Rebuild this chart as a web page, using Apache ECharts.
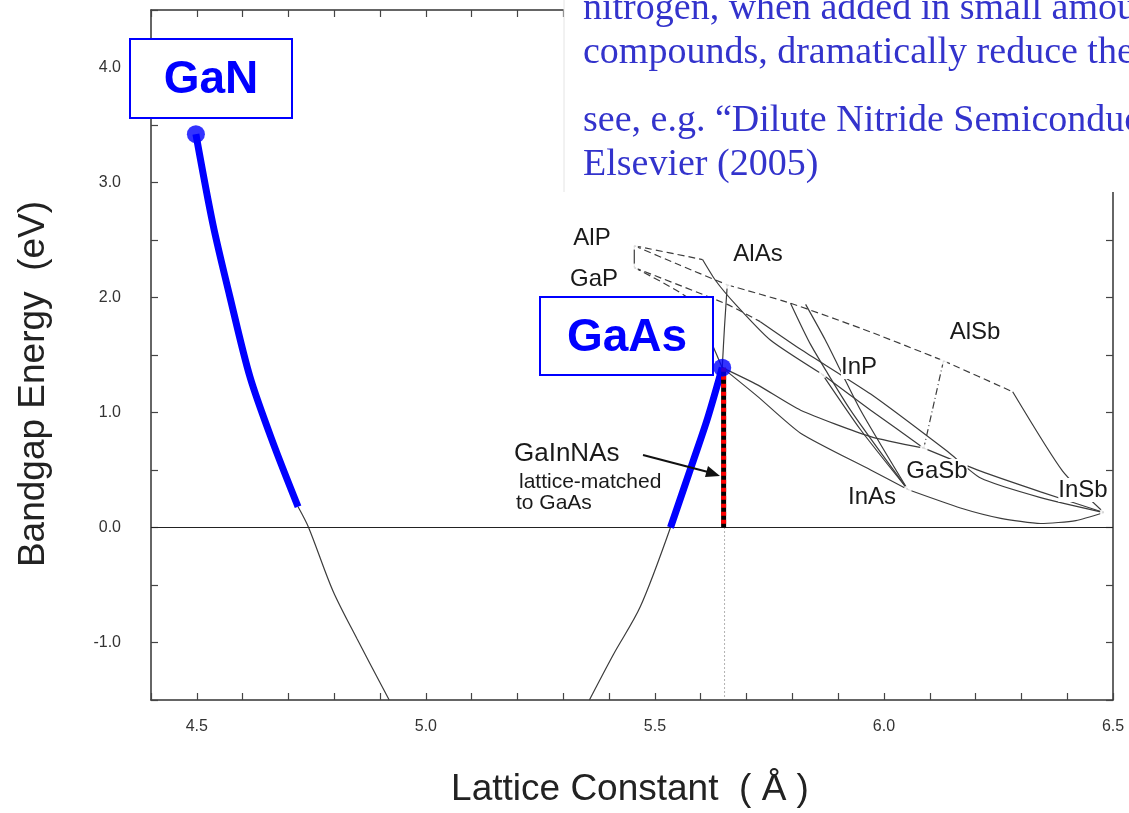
<!DOCTYPE html>
<html lang="en">
<head>
    <meta charset="utf-8">
    <title>Bandgap vs Lattice Constant</title>
    <script src="https://cdn.jsdelivr.net/npm/echarts@6/dist/echarts.min.js"></script>
</head>
<body>
    <style type="text/css">
        html, body { height: 100%; }
        body { margin: 0; background: #fff; }
    </style>
    <div id="main" style="width:1129px;height:813px;"></div>
    <script type="text/javascript">
        // compound end points (lattice constant, bandgap)
        var compounds = [[5.455, 2.45], [5.455, 2.26], [5.658, 2.11], [5.866, 1.33],
                         [6.130, 1.45], [6.087, 0.69], [6.052, 0.33], [6.480, 0.13]];

        // GaN / GaAs bowing curve (blue part = GaNAs, thin part = unphysical range)
        var ganBlue = [[4.498, 3.42], [4.535, 2.64], [4.572, 2.01], [4.616, 1.31], [4.666, 0.74], [4.721, 0.18]];
        var ganThin = [[4.721, 0.18], [4.744, 0.0], [4.797, -0.55], [4.850, -0.97], [4.920, -1.5]];
        var gaasThin = [[5.357, -1.5], [5.41, -1.1], [5.468, -0.69], [5.534, 0.0]];
        var gaasBlue = [[5.534, 0.0], [5.582, 0.56], [5.615, 0.95], [5.647, 1.39]];
        var ganPoint = [[4.498, 3.42]];
        var gaasPoint = [[5.647, 1.39]];

        // GaInNAs lattice matched to GaAs
        var gainnas = [[5.65, 1.39], [5.65, 0.0]];
        var gaasDrop = [[5.652, 0.0], [5.652, -1.5]];

        // ternary alloy lines, solid
        var solidLines = [
            [[5.455, 2.45], [5.455, 2.26]],                                   // AlP-GaP
            [[5.604, 2.33], [5.632, 2.15], [5.676, 1.94], [5.752, 1.63], [5.866, 1.33]], // AlP-InP
            [[5.621, 1.63], [5.647, 1.39]],                                   // GaP-GaAs
            [[5.730, 1.79], [5.818, 1.55], [5.971, 1.16], [6.139, 0.66], [6.211, 0.43], [6.342, 0.26], [6.480, 0.13]],
            [[5.658, 2.11], [5.652, 1.75], [5.647, 1.39]],                    // AlAs-GaAs
            [[5.796, 1.95], [5.840, 1.59], [5.927, 1.02], [6.052, 0.33]],     // AlAs-InAs
            [[5.829, 1.94], [5.872, 1.63], [5.949, 1.02], [6.052, 0.33]],
            [[5.647, 1.39], [5.724, 1.14], [5.818, 0.82], [5.971, 0.50], [6.052, 0.33]], // GaAs-InAs
            [[5.647, 1.39], [5.724, 1.24], [5.818, 1.02], [5.971, 0.79], [6.087, 0.69]], // GaAs-GaSb
            [[5.866, 1.33], [5.949, 0.85], [6.052, 0.33]],                    // InP-InAs
            [[5.866, 1.33], [5.971, 1.02], [6.087, 0.69]],
            [[6.281, 1.18], [6.390, 0.49], [6.480, 0.13]],                    // AlSb-InSb
            [[6.087, 0.69], [6.211, 0.49], [6.342, 0.31], [6.480, 0.13]],     // GaSb-InSb
            [[6.052, 0.33], [6.167, 0.17], [6.255, 0.08], [6.342, 0.035], [6.419, 0.06], [6.480, 0.13]] // InAs-InSb
        ];
        // indirect gap parts, dashed
        var dashedLines = [
            [[5.455, 2.45], [5.555, 2.28], [5.658, 2.11]],                    // AlP-AlAs
            [[5.455, 2.45], [5.604, 2.33]],
            [[5.455, 2.26], [5.577, 1.98], [5.621, 1.63]],
            [[5.455, 2.26], [5.658, 1.94], [5.730, 1.79]],
            [[5.658, 2.11], [5.796, 1.95], [5.971, 1.70], [6.130, 1.45]],     // AlAs-AlSb
            [[6.130, 1.45], [6.281, 1.18]]
        ];
        var dashDotLines = [
            [[6.130, 1.45], [6.087, 0.69]]                                    // AlSb-GaSb
        ];

        var labels = [
            { t: 'AlP', x: 592, y: 238 }, { t: 'GaP', x: 594, y: 279 },
            { t: 'AlAs', x: 758, y: 254 }, { t: 'InP', x: 859, y: 367 },
            { t: 'AlSb', x: 975, y: 332 }, { t: 'GaSb', x: 937, y: 471 },
            { t: 'InAs', x: 872, y: 497 }, { t: 'InSb', x: 1083, y: 490 }
        ];

        var thin = '#3c3c3c';
        var series = [];
        solidLines.forEach(function (d) {
            series.push({ type: 'line', data: d, symbol: 'none', smooth: 0.2, silent: true,
                lineStyle: { color: thin, width: 1.2 } });
        });
        dashedLines.forEach(function (d) {
            series.push({ type: 'line', data: d, symbol: 'none', smooth: 0.2, silent: true,
                lineStyle: { color: thin, width: 1.2, type: [7, 4] } });
        });
        dashDotLines.forEach(function (d) {
            series.push({ type: 'line', data: d, symbol: 'none', silent: true,
                lineStyle: { color: thin, width: 1.2, type: [7, 3, 1, 3] } });
        });
        series.push({ type: 'scatter', data: compounds, symbol: 'emptyCircle', symbolSize: 6,
            itemStyle: { color: '#fff', borderColor: thin, borderWidth: 1 }, z: 3 });

        series.push({ type: 'line', data: ganThin, symbol: 'none', smooth: 0.3,
            lineStyle: { color: thin, width: 1.2 } });
        series.push({ type: 'line', data: gaasThin, symbol: 'none', smooth: 0.3,
            lineStyle: { color: thin, width: 1.2 } });
        series.push({ type: 'line', data: gaasDrop, symbol: 'none',
            lineStyle: { color: '#666', width: 1, type: [1, 3] } });
        series.push({ type: 'line', data: ganBlue, symbol: 'none', smooth: 0.3, z: 5,
            lineStyle: { color: '#0000ff', width: 7, cap: 'butt' } });
        series.push({ type: 'line', data: gaasBlue, symbol: 'none', smooth: 0.3, z: 5,
            lineStyle: { color: '#0000ff', width: 7, cap: 'butt' } });
        series.push({ type: 'line', data: gainnas, symbol: 'none', z: 5,
            lineStyle: { color: '#000', width: 5 } });
        series.push({ type: 'line', data: gainnas, symbol: 'none', z: 6,
            lineStyle: { color: '#ff0000', width: 5, type: [4, 4] } });
        series.push({ type: 'scatter', data: ganPoint.concat(gaasPoint), symbolSize: 18, z: 7,
            itemStyle: { color: '#0000ff' } });

        var serif = '38px "Liberation Serif"';
        var graphics = [
            // text panel over the top right of the plot
            { type: 'rect', z: 100, shape: { x: 564, y: 0, width: 570, height: 192 },
              style: { fill: '#fff' } },
            { type: 'line', z: 100, shape: { x1: 564, y1: 0, x2: 564, y2: 192 },
              style: { stroke: '#e4e4e4', lineWidth: 1 } },
            { type: 'text', z: 101, x: 583, y: 9, style: { text: 'nitrogen, when added in small amounts to III-V',
              font: serif, fill: '#3333cc', textVerticalAlign: 'middle', verticalAlign: 'middle' } },
            { type: 'text', z: 101, x: 583, y: 53, style: { text: 'compounds, dramatically reduce the bandgap',
              font: serif, fill: '#3333cc', textVerticalAlign: 'middle', verticalAlign: 'middle' } },
            { type: 'text', z: 101, x: 583, y: 121, style: { text: 'see, e.g. \u201cDilute Nitride Semiconductors\u201d',
              font: serif, fill: '#3333cc', textVerticalAlign: 'middle', verticalAlign: 'middle' } },
            { type: 'text', z: 101, x: 583, y: 165, style: { text: 'Elsevier (2005)',
              font: serif, fill: '#3333cc', textVerticalAlign: 'middle', verticalAlign: 'middle' } },

            // GaN and GaAs boxes
            { type: 'rect', z: 100, shape: { x: 130, y: 39, width: 162, height: 79 },
              style: { fill: '#fff', stroke: '#0000ff', lineWidth: 2 } },
            { type: 'text', z: 101, x: 211, y: 80, style: { text: 'GaN', font: 'bold 46px "Liberation Sans"',
              fill: '#0000ff', textAlign: 'center', align: 'center', textVerticalAlign: 'middle', verticalAlign: 'middle' } },
            { type: 'rect', z: 100, shape: { x: 540, y: 297, width: 173, height: 78 },
              style: { fill: '#fff', stroke: '#0000ff', lineWidth: 2 } },
            { type: 'text', z: 101, x: 627, y: 338, style: { text: 'GaAs', font: 'bold 46px "Liberation Sans"',
              fill: '#0000ff', textAlign: 'center', align: 'center', textVerticalAlign: 'middle', verticalAlign: 'middle' } },

            // GaInNAs note and arrow
            { type: 'text', z: 101, x: 514, y: 454, style: { text: 'GaInNAs', font: '26px "Liberation Sans"',
              fill: '#1a1a1a', textVerticalAlign: 'middle', verticalAlign: 'middle' } },
            { type: 'text', z: 101, x: 519, y: 482, style: { text: 'lattice-matched', font: '21px "Liberation Sans"',
              fill: '#1a1a1a', textVerticalAlign: 'middle', verticalAlign: 'middle' } },
            { type: 'text', z: 101, x: 516, y: 503, style: { text: 'to GaAs', font: '21px "Liberation Sans"',
              fill: '#1a1a1a', textVerticalAlign: 'middle', verticalAlign: 'middle' } },
            { type: 'line', z: 101, shape: { x1: 643, y1: 455, x2: 708, y2: 472 },
              style: { stroke: '#111', lineWidth: 2 } },
            { type: 'polygon', z: 101, shape: { points: [[720, 476], [705, 477], [708, 466]] },
              style: { fill: '#111' } },

            // axis titles
            { type: 'text', z: 101, x: 630, y: 790, style: { text: 'Lattice Constant  ( \u00c5 )',
              font: '37px "Liberation Sans"', fill: '#222', textAlign: 'center', align: 'center',
              textVerticalAlign: 'middle', verticalAlign: 'middle' } },
            { type: 'text', z: 101, x: 34, y: 384, rotation: Math.PI / 2, style: { text: 'Bandgap Energy  (eV)',
              font: '37px "Liberation Sans"', fill: '#222', textAlign: 'center', align: 'center',
              textVerticalAlign: 'middle', verticalAlign: 'middle' } }
        ];
        labels.forEach(function (l) {
            graphics.push({ type: 'text', z: 101, x: l.x, y: l.y, style: { text: l.t,
                font: '24px "Liberation Sans"', fill: '#1a1a1a', backgroundColor: '#fff',
                textAlign: 'center', align: 'center', textVerticalAlign: 'middle', verticalAlign: 'middle' } });
        });

        function half(v) {
            return Math.abs(v * 2 - Math.round(v * 2)) < 1e-6 ? v.toFixed(1) : '';
        }
        function whole(v) {
            return Math.abs(v - Math.round(v)) < 1e-6 ? v.toFixed(1) : '';
        }

        var axisLine = { show: true, onZero: false, lineStyle: { color: '#333', width: 1.5 } };
        var tick = { show: true, inside: true, length: 7, lineStyle: { color: '#444', width: 1.2 } };

        var myChart = echarts.init(document.getElementById('main'));
        var option = {
            backgroundColor: '#fff',
            animation: false,
            grid: { left: 151, right: 16, top: 10, bottom: 113 },
            xAxis: [
                { type: 'value', position: 'bottom', min: 4.4, max: 6.5, interval: 0.1,
                  axisLine: axisLine, axisTick: tick, splitLine: { show: false },
                  axisLabel: { formatter: half, margin: 19, fontSize: 16, color: '#333',
                               fontFamily: 'Liberation Sans', showMinLabel: true, showMaxLabel: true } },
                { type: 'value', position: 'top', min: 4.4, max: 6.5, interval: 0.1,
                  axisLine: axisLine, axisTick: tick, splitLine: { show: false }, axisLabel: { show: false } }
            ],
            yAxis: [
                { type: 'value', position: 'left', min: -1.5, max: 4.5, interval: 0.5,
                  axisLine: axisLine, axisTick: tick, splitLine: { show: false },
                  axisLabel: { formatter: whole, margin: 30, fontSize: 16, color: '#333',
                               fontFamily: 'Liberation Sans' } },
                { type: 'value', position: 'right', min: -1.5, max: 4.5, interval: 0.5,
                  axisLine: axisLine, axisTick: tick, splitLine: { show: false }, axisLabel: { show: false } }
            ],
            series: series.concat([{
                type: 'line', data: [], silent: true,
                markLine: { symbol: 'none', silent: true, label: { show: false },
                            lineStyle: { color: '#222', width: 1.2, type: 'solid' },
                            data: [{ yAxis: 0 }] }
            }]),
            graphic: { elements: graphics }
        };
        myChart.setOption(option);
    </script>
</body>
</html>
